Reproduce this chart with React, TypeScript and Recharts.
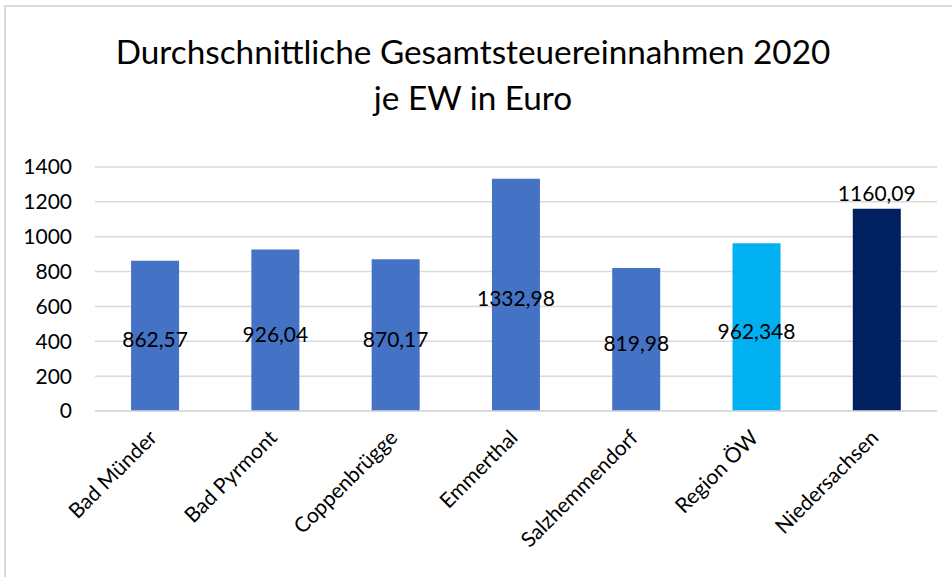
import React from 'react';
import { BarChart, Bar, XAxis, YAxis, CartesianGrid, Cell, LabelList } from 'recharts';

const categories = ['Bad Münder', 'Bad Pyrmont', 'Coppenbrügge', 'Emmerthal', 'Salzhemmendorf', 'Region ÖW', 'Niedersachsen'];
const values = [862.57, 926.04, 870.17, 1332.98, 819.98, 962.348, 1160.09];
const barColors = ['#4472C4', '#4472C4', '#4472C4', '#4472C4', '#4472C4', '#00B0F0', '#002060'];
const yTicks = [0, 200, 400, 600, 800, 1000, 1200, 1400];

const data = categories.map((name, i) => ({ name, value: values[i] }));

const FONT = 'Lato, "Open Sans", sans-serif';

const fmt = (v: number) => String(v).replace('.', ',');

const XTick = (props: any) => {
  const { x, y, payload } = props;
  return (
    <g transform={`translate(${x - 3},${y + 14})`}>
      <text transform="rotate(-45)" textAnchor="end" dominantBaseline="central" fontFamily={FONT} fontSize={21} fill="#000">
        {payload.value}
      </text>
    </g>
  );
};

const ValueLabel = (props: any) => {
  const { x, y, width, height, value, index } = props;
  const cx = x + width / 2;
  // last bar has its label above the bar
  const outside = index === categories.length - 1;
  const cy = outside ? y - 16 : y + height / 2 + 3;
  return (
    <text x={cx} y={cy} textAnchor="middle" dominantBaseline="central" fontFamily={FONT} fontSize={21} fill="#000">
      {fmt(value)}
    </text>
  );
};

const App = () => {
  return (
    <div style={{ position: 'absolute', left: 0, top: 0, width: 952, height: 577, overflow: 'hidden', background: '#fff' }}>
      <div style={{ position: 'absolute', left: 4, top: 5, right: -10, bottom: -10, borderLeft: '2px solid #D9D9D9', borderTop: '2px solid #D9D9D9' }} />
      <div style={{ position: 'absolute', left: 0, top: 28, width: 946, textAlign: 'center', fontFamily: FONT, fontSize: 33.3, lineHeight: '46px', color: '#000' }}>
        Durchschnittliche Gesamtsteuereinnahmen 2020
        <br />
        je EW in Euro
      </div>
      <div style={{ position: 'absolute', left: 0, top: 0 }}>
        <BarChart width={952} height={577} data={data} margin={{ top: 167, right: 15, left: 15, bottom: 16 }} barCategoryGap="30%">
          <CartesianGrid vertical={false} stroke="#D9D9D9" strokeWidth={1.5} />
          <XAxis
            dataKey="name"
            height={150}
            interval={0}
            tick={<XTick />}
            tickLine={false}
            axisLine={{ stroke: '#D9D9D9', strokeWidth: 1.5 }}
          />
          <YAxis
            width={80}
            domain={[0, 1400]}
            ticks={yTicks}
            tickLine={false}
            axisLine={false}
            tickSize={0}
            tickMargin={23}
            tick={{ fontFamily: FONT, fontSize: 21, fill: '#000' }}
          />
          <Bar dataKey="value" isAnimationActive={false}>
            {data.map((d, i) => (
              <Cell key={d.name} fill={barColors[i]} />
            ))}
            <LabelList dataKey="value" content={<ValueLabel />} />
          </Bar>
        </BarChart>
      </div>
    </div>
  );
};

export default App;
